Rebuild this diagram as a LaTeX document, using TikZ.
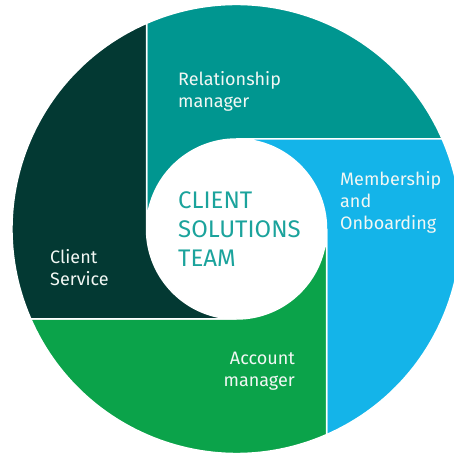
\documentclass[tikz,border=0pt]{standalone}
\usepackage{fontspec}
\setmainfont{Fira Sans}
\usetikzlibrary{calc}
\definecolor{rmteal}{HTML}{009690}
\definecolor{mobblue}{HTML}{14B4E9}
\definecolor{acgreen}{HTML}{0BA34A}
\definecolor{csdark}{HTML}{033933}
\definecolor{ctrteal}{HTML}{1BA39C}
\definecolor{lblwhite}{HTML}{F2F7F4}
\begin{document}
\begin{tikzpicture}[x=1pt,y=1pt,
  sector/.style={draw=white, line width=1.5pt, line join=miter},
  lbl/.style={text=lblwhite, inner sep=0pt, font=\fontsize{18}{22}\selectfont},
  ctr/.style={text=ctrteal, inner sep=0pt, align=left, font=\fontsize{24}{29}\selectfont}]
\useasboundingbox (0,0) rectangle (454,454);
\clip (0,0) rectangle (454,454);
\def\R{224.5}
\def\r{90}
\pgfmathsetmacro\a{acos(\r/\R)}
\coordinate (C) at (236.5,225);
% Relationship manager (teal)
\filldraw[sector, fill=rmteal] ($(C)+(180:\r)$) -- ($(C)+(180-\a:\R)$)
  arc[start angle=180-\a, end angle=90-\a, radius=\R]
  -- ($(C)+(90:\r)$) arc[start angle=90, end angle=180, radius=\r] -- cycle;
% Membership and Onboarding (blue)
\filldraw[sector, fill=mobblue] ($(C)+(90:\r)$) -- ($(C)+(90-\a:\R)$)
  arc[start angle=90-\a, end angle=-\a, radius=\R]
  -- ($(C)+(0:\r)$) arc[start angle=0, end angle=90, radius=\r] -- cycle;
% Account manager (green)
\filldraw[sector, fill=acgreen] ($(C)+(0:\r)$) -- ($(C)+(-\a:\R)$)
  arc[start angle=-\a, end angle=-90-\a, radius=\R]
  -- ($(C)+(270:\r)$) arc[start angle=270, end angle=360, radius=\r] -- cycle;
% Client Service (dark)
\filldraw[sector, fill=csdark] ($(C)+(270:\r)$) -- ($(C)+(-90-\a:\R)$)
  arc[start angle=-90-\a, end angle=-180-\a, radius=\R]
  -- ($(C)+(180:\r)$) arc[start angle=180, end angle=270, radius=\r] -- cycle;
% labels (anchor = baseline of the last line)
\node[lbl, anchor=base west, align=left] (rel) at (178,346) {Relationship\\manager};
\node[lbl, anchor=base west, align=left] (mob) at (340,224) {Membership\\and\\Onboarding};
\node[lbl, anchor=base west, align=left] (cs) at (50,168) {Client\\Service};
\node[lbl, anchor=base east, align=right] (acc) at (295,67) {Account\\manager};
\node[ctr, anchor=base west] (team) at (178,187) {CLIENT\\SOLUTIONS\\TEAM};
\end{tikzpicture}
\end{document}
